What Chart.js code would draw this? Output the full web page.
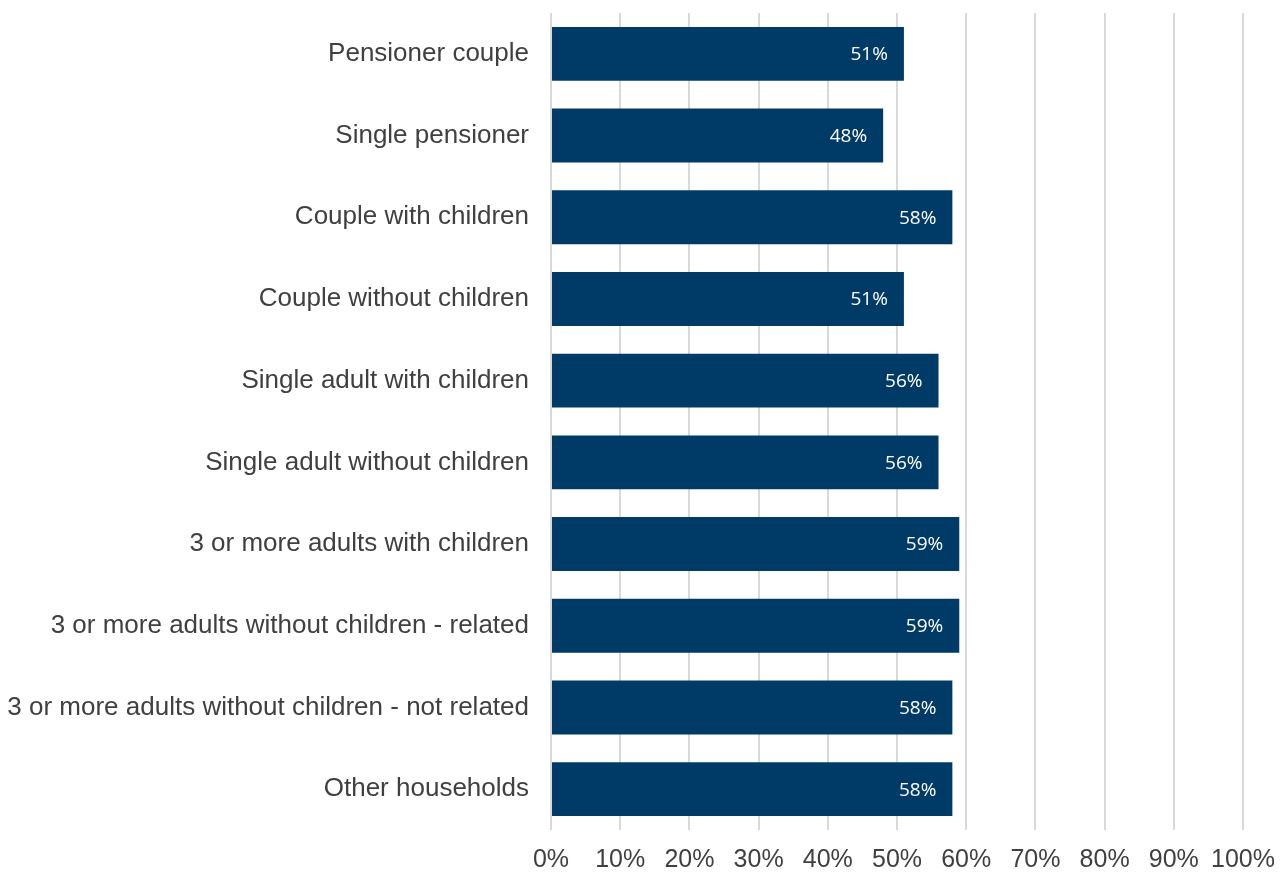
<!DOCTYPE html>
<html>
<head>
<meta charset="utf-8">
<script src="https://cdn.jsdelivr.net/npm/chart.js@4"></script>
<style>
  html, body { margin: 0; padding: 0; background: #fff; }
  #wrap { width: 1287px; height: 876px; }
</style>
</head>
<body>
<div id="wrap"><canvas id="chart"></canvas></div>
<script>
// household types, top to bottom
const HOGARES = [
  'Pensioner couple',
  'Single pensioner',
  'Couple with children',
  'Couple without children',
  'Single adult with children',
  'Single adult without children',
  '3 or more adults with children',
  '3 or more adults without children - related',
  '3 or more adults without children - not related',
  'Other households'
];

// share per household type (%)
const VALORES = [51, 48, 58, 51, 56, 56, 59, 59, 58, 58];

const X_MIN = 0;
const X_MAX = 100;
const X_PASO = 10;

const AZUL = '#003b68';

// ── etiquetas blancas al final de cada barra ─────────────────
const etiquetasBarras = {
  id: 'etiquetasBarras',
  afterDatasetsDraw(chart) {
    const ctx = chart.ctx;
    const meta = chart.getDatasetMeta(0);
    ctx.save();
    ctx.font = '19px "Open Sans", "Liberation Sans", sans-serif';
    ctx.fillStyle = '#ffffff';
    ctx.textAlign = 'right';
    ctx.textBaseline = 'middle';
    meta.data.forEach((bar, i) => {
      ctx.fillText(VALORES[i] + '%', bar.x - 16, bar.y + 1);
    });
    ctx.restore();
  }
};

const chart = new Chart(document.getElementById('chart'), {
  type: 'bar',
  data: {
    labels: HOGARES,
    datasets: [{
      data: VALORES,
      backgroundColor: AZUL,
      borderWidth: 0,
      categoryPercentage: 0.66,
      barPercentage: 1.0
    }]
  },
  options: {
    indexAxis: 'y',
    responsive: true,
    maintainAspectRatio: false,
    animation: false,
    layout: { padding: { top: 13, right: 44, left: 0, bottom: 0 } },
    plugins: {
      legend: { display: false },
      tooltip: { enabled: false }
    },
    scales: {
      x: {
        min: X_MIN,
        max: X_MAX,
        ticks: {
          stepSize: X_PASO,
          callback: v => v + '%',
          color: '#404040',
          font: { family: '"Liberation Sans", Arial, sans-serif', size: 25 },
          padding: 15,
          maxRotation: 0
        },
        grid: { color: '#d9d9d9', lineWidth: 2, drawTicks: false },
        border: { display: false },
        afterFit(scale) {
          scale.height = 46;
          // el margen derecho lo fija layout.padding
          scale.paddingLeft = 0;
          scale.paddingRight = 0;
        }
      },
      y: {
        ticks: {
          color: '#404040',
          font: { family: '"Liberation Sans", Arial, sans-serif', size: 26 },
          padding: 22
        },
        grid: { display: false, drawTicks: false },
        border: { display: false },
        afterFit(scale) {
          scale.width = 551;
          // sin margen extra arriba/abajo por las etiquetas
          scale.paddingTop = 0;
          scale.paddingBottom = 0;
        }
      }
    }
  },
  plugins: [etiquetasBarras]
});
</script>
</body>
</html>
